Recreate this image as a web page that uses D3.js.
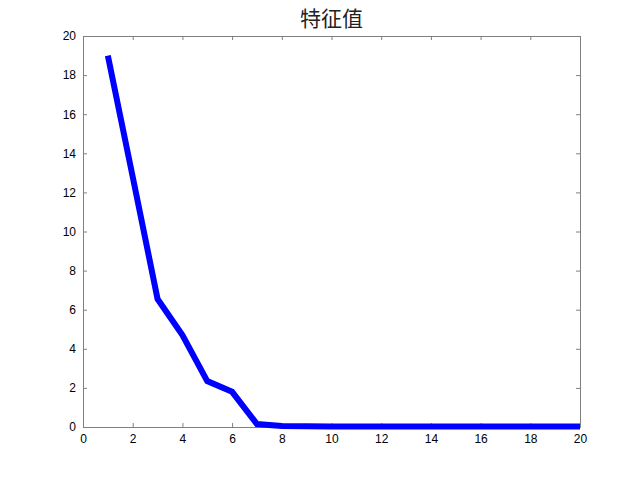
<!DOCTYPE html>
<html>
<head>
<meta charset="UTF-8">
<title>特征值</title>
<style>
  body { margin: 0; background: #fff; }
  .tick text { font: 12px "Liberation Sans", Arial, sans-serif; fill: #000; }
  .tick line, .domain { stroke: #808080; }
  .title { font: 21px "Noto Sans CJK SC", sans-serif; fill: #222; text-anchor: middle; }
</style>
<script src="https://d3js.org/d3.v7.min.js"></script>
</head>
<body>
<div id="chart"></div>
<script>
  // eigenvalues by index
  const idx = [1, 2, 3, 4, 5, 6, 7, 8, 9, 10, 11, 12, 13, 14, 15, 16, 17, 18, 19, 20];
  const vals = [19.0, 12.8, 6.55, 4.7, 2.35, 1.8, 0.15, 0.05, 0.04, 0.03, 0.03, 0.03, 0.03, 0.02, 0.02, 0.02, 0.02, 0.02, 0.02, 0.02];
  const xTicks = [0, 2, 4, 6, 8, 10, 12, 14, 16, 18, 20];
  const yTicks = [0, 2, 4, 6, 8, 10, 12, 14, 16, 18, 20];

  const W = 640, H = 480;
  const margin = {top: 36, right: 60, bottom: 53, left: 83};
  const width = W - margin.left - margin.right;
  const height = H - margin.top - margin.bottom;

  const svg = d3.select("#chart").append("svg")
      .attr("width", W)
      .attr("height", H);
  const g = svg.append("g")
      .attr("transform", `translate(${margin.left},${margin.top})`);

  const x = d3.scaleLinear().domain([0, 20]).range([0, width]);
  const y = d3.scaleLinear().domain([0, 20]).range([height, 0]);

  // axes, ticks pointing inward on all four sides
  g.append("g")
      .attr("transform", `translate(0,${height})`)
      .call(d3.axisBottom(x).tickValues(xTicks).tickSizeInner(-4).tickSizeOuter(0).tickPadding(7));
  g.append("g")
      .call(d3.axisTop(x).tickValues(xTicks).tickSizeInner(-4).tickSizeOuter(0).tickFormat(""));
  g.append("g")
      .call(d3.axisLeft(y).tickValues(yTicks).tickSizeInner(-4).tickSizeOuter(0).tickPadding(7));
  g.append("g")
      .attr("transform", `translate(${width},0)`)
      .call(d3.axisRight(y).tickValues(yTicks).tickSizeInner(-4).tickSizeOuter(0).tickFormat(""));

  const line = d3.line()
      .x((d, i) => x(idx[i]))
      .y(d => y(d));

  g.append("path")
      .datum(vals)
      .attr("fill", "none")
      .attr("stroke", "#0000ff")
      .attr("stroke-width", 6)
      .attr("stroke-linejoin", "miter")
      .attr("d", line);

  svg.append("text")
      .attr("class", "title")
      .attr("x", margin.left + width / 2)
      .attr("y", 26)
      .text("特征值");
</script>
</body>
</html>
